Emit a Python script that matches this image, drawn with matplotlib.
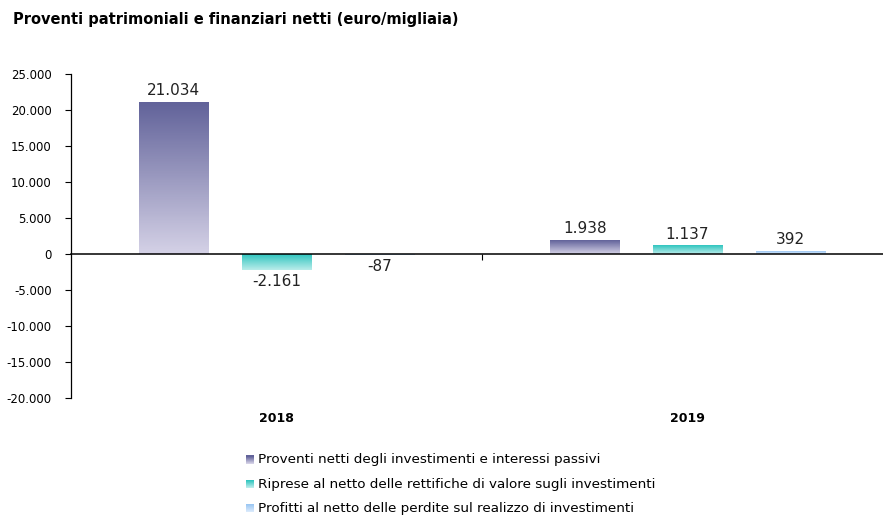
import matplotlib

matplotlib.use("Agg")
import matplotlib.pyplot as plt
import numpy as np
from matplotlib.colors import LinearSegmentedColormap
from matplotlib.legend_handler import HandlerBase
from matplotlib.patches import Patch, Rectangle
from matplotlib.transforms import blended_transform_factory

plt.rcParams["font.family"] = ["DejaVu Sans"]

TITLE = "Proventi patrimoniali e finanziari netti (euro/migliaia)"
YEARS = ["2018", "2019"]
SERIES = [
    "Proventi netti degli investimenti e interessi passivi",
    "Riprese al netto delle rettifiche di valore sugli investimenti",
    "Profitti al netto delle perdite sul realizzo di investimenti",
]
VALUES = [
    [21034, 1938],
    [-2161, 1137],
    [-87, 392],
]
# top -> bottom gradient colours for each series
GRADIENTS = [
    ("#62639a", "#d4d1e6"),
    ("#30c5bf", "#b9ecea"),
    ("#9cc7f3", "#d8e9fb"),
]


def fmt(v):
    return f"{v:,}".replace(",", ".")


class GradientHandler(HandlerBase):
    def __init__(self, colors):
        super().__init__()
        self.cmap = LinearSegmentedColormap.from_list("g", colors)

    def create_artists(self, legend, orig, x0, y0, width, height, fontsize, trans):
        n = 8
        side = min(width, height)
        out = []
        for i in range(n):
            r = Rectangle((x0, y0 + side * (n - 1 - i) / n), side, side / n,
                          facecolor=self.cmap(i / (n - 1)), edgecolor="none",
                          transform=trans)
            out.append(r)
        return out


fig = plt.figure(figsize=(8.83, 5.17), dpi=100)
ax = fig.add_axes([0.0804, 0.2302, 0.9196, 0.6267])

x = np.arange(len(YEARS))
width = 0.168
offsets = [-0.25, 0.0, 0.25]

for vals, off, cols in zip(VALUES, offsets, GRADIENTS):
    cmap = LinearSegmentedColormap.from_list("g", cols)
    rects = ax.bar(x + off, vals, width, color="none", edgecolor="none")
    for r, v in zip(rects, vals):
        x0, y0 = r.get_x(), r.get_y()
        y1 = y0 + r.get_height()
        grad = np.linspace(0, 1, 64).reshape(-1, 1)
        ax.imshow(grad, cmap=cmap, aspect="auto", origin="upper",
                  extent=[x0, x0 + r.get_width(), min(y0, y1), max(y0, y1)],
                  zorder=2)
        va = "bottom" if v >= 0 else "top"
        dy = 3 if v >= 0 else -3
        ax.annotate(fmt(v), (r.get_x() + r.get_width() / 2, v),
                    xytext=(0, dy), textcoords="offset points",
                    ha="center", va=va, fontsize=11, color="#222222")

ax.set_xlim(-0.5, 1.476)
ax.set_ylim(-20000, 25000)
ax.set_yticks(np.arange(-20000, 25001, 5000))
ax.set_yticklabels([fmt(int(t)) for t in ax.get_yticks()], fontsize=8.5)
ax.tick_params(axis="y", direction="out", length=4, width=0.8, pad=10)

for s in ("top", "right"):
    ax.spines[s].set_visible(False)
ax.spines["left"].set_linewidth(0.9)
ax.spines["bottom"].set_position(("data", 0))
ax.spines["bottom"].set_linewidth(1.1)
ax.set_xticks([0.5])
ax.set_xticklabels([""])
ax.tick_params(axis="x", direction="out", length=4, width=0.8)

tr = blended_transform_factory(ax.transData, ax.transAxes)
for xi, yr in zip(x, YEARS):
    ax.text(xi, -0.062, yr, transform=tr, ha="center", va="center",
            fontsize=9, fontweight="bold")

fig.text(0.015, 0.962, TITLE, fontsize=10.5, fontweight="bold", va="center")

handles = [Patch(label=s) for s in SERIES]
fig.legend(handles=handles, loc="upper center", bbox_to_anchor=(0.51, 0.134),
           frameon=False, fontsize=9.7, labelspacing=0.85,
           handlelength=0.6, handleheight=0.6, handletextpad=0.3,
           borderaxespad=0,
           handler_map={h: GradientHandler(c) for h, c in zip(handles, GRADIENTS)})

fig.savefig("out.png", dpi=100)
